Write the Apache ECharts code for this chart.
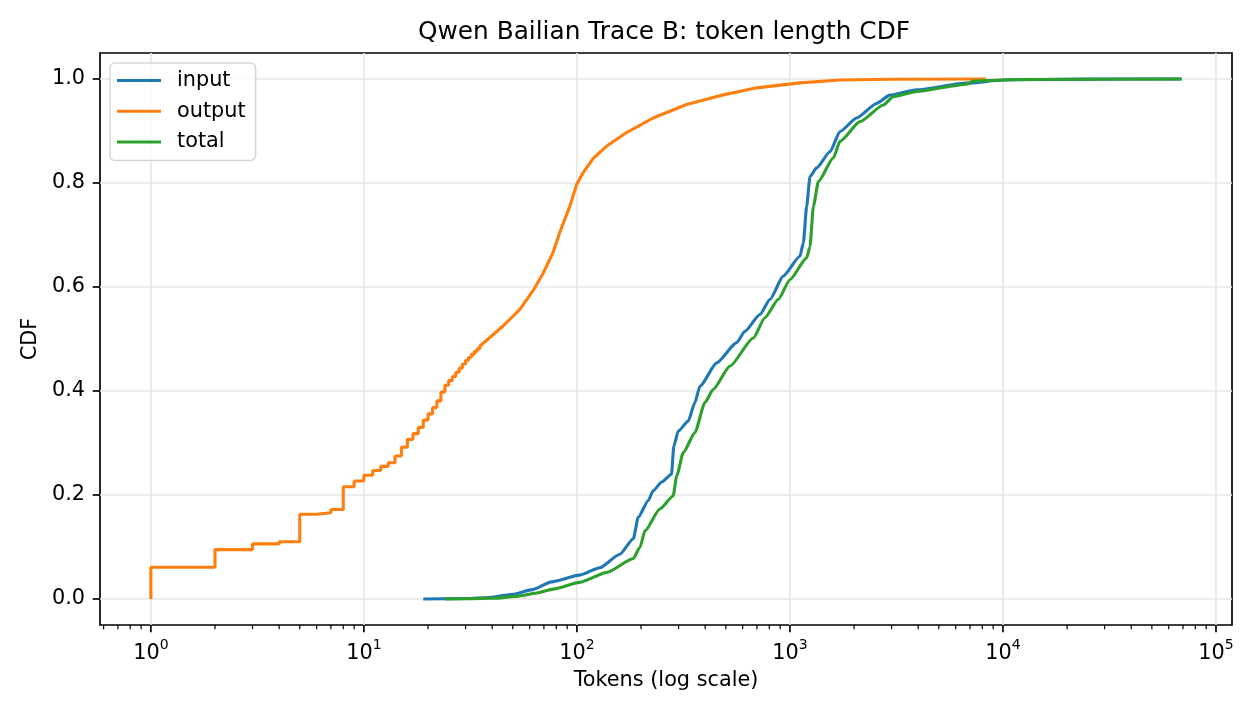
<!DOCTYPE html>
<html>
<head>
<meta charset="utf-8">
<script src="https://cdn.jsdelivr.net/npm/echarts@6/dist/echarts.min.js"></script>
<style>
  html, body { margin: 0; padding: 0; background: #fff; }
  #chart { width: 1260px; height: 720px; }
</style>
</head>
<body>
<div id="chart"></div>
<script>
// output lengths: discrete steps for the small integer token counts
const outputStepTokens = [1, 2, 3, 4, 5, 6, 7, 8, 9, 10, 11, 12, 13, 14, 15, 16, 17, 18, 19, 20,
  21, 22, 23, 24, 25, 26, 27, 28, 29, 30, 31, 32, 33, 34, 35];
const outputStepCdf = [0.061, 0.095, 0.106, 0.110, 0.163, 0.166, 0.172, 0.216, 0.227, 0.238,
  0.247, 0.255, 0.262, 0.275, 0.292, 0.307, 0.318, 0.330, 0.344, 0.356,
  0.368, 0.381, 0.398, 0.411, 0.420, 0.428, 0.436, 0.444, 0.452, 0.459,
  0.465, 0.471, 0.476, 0.481, 0.486];
// output lengths: continuous part
const outputTokens = [45, 54, 62, 69.5, 77, 83, 92.7, 99.7, 107, 119, 138, 171, 228, 327, 469, 698, 1114, 1718, 3000, 8300];
const outputCdf = [0.525, 0.557, 0.592, 0.627, 0.665, 0.7045, 0.7556, 0.797, 0.820, 0.847, 0.871, 0.897, 0.925, 0.951, 0.968, 0.983, 0.9925, 0.998, 0.9995, 1.0];

const inputTokens = [19, 30, 39, 50, 62, 76, 103, 128, 159, 184, 194, 216, 228, 250, 278, 285, 299, 333, 358, 378,
  453, 562, 615, 723, 805, 930, 1114, 1156, 1198, 1242, 1334, 1541, 1718, 2057, 2551, 2946, 3935, 6760, 10000, 23800, 69000];
const inputCdf = [0, 0.001, 0.003, 0.009, 0.018, 0.033, 0.046, 0.060, 0.086, 0.116, 0.157, 0.189, 0.208, 0.225, 0.240, 0.294, 0.323, 0.342, 0.378, 0.409,
  0.454, 0.493, 0.515, 0.547, 0.576, 0.621, 0.659, 0.685, 0.755, 0.8125, 0.829, 0.860, 0.899, 0.925, 0.953, 0.969, 0.979, 0.992, 0.998, 0.9998, 1.0];

const totalTokens = [24, 40.5, 52, 64.7, 77.4, 103, 138, 184, 198, 208.5, 245, 283, 294, 316, 358, 399, 436, 523, 673, 763,
  881, 1000, 1198, 1242, 1288, 1360, 1597, 1718, 2132, 2743, 3054, 3935, 6760, 7260, 11600, 69000];
const totalCdf = [0, 0.0013, 0.005, 0.0115, 0.019, 0.032, 0.051, 0.078, 0.100, 0.131, 0.173, 0.198, 0.237, 0.282, 0.320, 0.378, 0.403, 0.448, 0.502, 0.541,
  0.576, 0.614, 0.656, 0.678, 0.755, 0.803, 0.848, 0.880, 0.918, 0.950, 0.966, 0.976, 0.990, 0.996, 0.999, 1.0];

// axis ticks
const xMajorTicks = [1, 10, 100, 1000, 10000, 100000];
const xMinorTicks = [0.6, 0.7, 0.8, 0.9,
  2, 3, 4, 5, 6, 7, 8, 9, 20, 30, 40, 50, 60, 70, 80, 90,
  200, 300, 400, 500, 600, 700, 800, 900, 2000, 3000, 4000, 5000, 6000, 7000, 8000, 9000,
  20000, 30000, 40000, 50000, 60000, 70000, 80000, 90000];
const yTicks = [0, 0.2, 0.4, 0.6, 0.8, 1.0];

const FONT = 'DejaVu Sans';
const colors = { input: '#1f77b4', output: '#ff7f0e', total: '#2ca02c' };

function pairs(xs, ys) {
  return xs.map((x, i) => [x, ys[i]]);
}

// output: vertical jump at each integer, then the smooth tail
const outputData = [];
let prev = 0;
outputStepTokens.forEach((t, i) => {
  outputData.push([t, prev]);
  outputData.push([t, outputStepCdf[i]]);
  prev = outputStepCdf[i];
});
outputData.push(...pairs(outputTokens, outputCdf));

// grid lines and ticks: [x, y, kind]  kind 0 = x major, 1 = x minor, 2 = y major
const decorData = []
  .concat(xMajorTicks.map(v => [v, 0, 0]))
  .concat(xMinorTicks.map(v => [v, 0, 1]))
  .concat(yTicks.map(v => [1, v, 2]));

function renderDecor(params, api) {
  const cs = params.coordSys;
  const kind = api.value(2);
  const p = api.coord([api.value(0), api.value(1)]);
  const bottom = cs.y + cs.height;
  const grid = { stroke: '#e7e7e7', lineWidth: 1.67 };
  const tick = { stroke: '#000', lineWidth: 1.67 };
  if (kind === 2) {
    return { type: 'group', children: [
      { type: 'line', shape: { x1: cs.x, y1: p[1], x2: cs.x + cs.width, y2: p[1] }, style: grid },
      { type: 'line', shape: { x1: cs.x - 7.3, y1: p[1], x2: cs.x, y2: p[1] }, style: tick }
    ] };
  }
  if (kind === 0) {
    return { type: 'group', children: [
      { type: 'line', shape: { x1: p[0], y1: cs.y, x2: p[0], y2: bottom }, style: grid },
      { type: 'line', shape: { x1: p[0], y1: bottom, x2: p[0], y2: bottom + 7.3 }, style: tick }
    ] };
  }
  return { type: 'line', shape: { x1: p[0], y1: bottom, x2: p[0], y2: bottom + 4.2 }, style: { stroke: '#000', lineWidth: 1.2 } };
}

const chart = echarts.init(document.getElementById('chart'));

const option = {
  animation: false,
  backgroundColor: '#fff',
  title: {
    text: 'Qwen Bailian Trace B: token length CDF',
    left: 664,
    textAlign: 'center',
    top: 20,
    padding: 0,
    textStyle: { fontFamily: FONT, fontSize: 24.8, fontWeight: 'normal', color: '#000' }
  },
  legend: {
    data: ['input', 'output', 'total'],
    orient: 'vertical',
    left: 110,
    top: 63,
    padding: [7, 10, 8, 7],
    itemGap: 9.7,
    itemWidth: 44,
    itemHeight: 3,
    icon: 'rect',
    borderColor: '#d6d6d6',
    borderWidth: 1.5,
    borderRadius: 5,
    backgroundColor: 'rgba(255,255,255,0.8)',
    formatter: name => '{n|' + name + '}',
    textStyle: {
      fontFamily: FONT, fontSize: 20.8, color: '#000',
      rich: { n: { fontFamily: FONT, fontSize: 20.8, lineHeight: 21, padding: [0, 0, 0, 11], color: '#000' } }
    }
  },
  grid: {
    left: 100, right: 28, top: 53, bottom: 95,
    show: true, borderColor: '#000', borderWidth: 1.67, backgroundColor: 'transparent'
  },
  xAxis: {
    type: 'log',
    logBase: 10,
    min: 0.577,
    max: 118900,
    splitNumber: 5,
    name: 'Tokens (log scale)',
    nameLocation: 'middle',
    nameGap: 45,
    nameTextStyle: { fontFamily: FONT, fontSize: 20.8, color: '#000' },
    axisLine: { show: false },
    axisTick: { show: false },
    splitLine: { show: false },
    minorTick: { show: false },
    axisLabel: {
      showMinLabel: false,
      showMaxLabel: false,
      margin: 13,
      formatter: v => '{b|10}{s|' + Math.round(Math.log10(v)) + '}',
      rich: {
        b: { fontFamily: FONT, fontSize: 20.8, color: '#000', lineHeight: 26, verticalAlign: 'bottom' },
        s: { fontFamily: FONT, fontSize: 14, color: '#000', lineHeight: 16, verticalAlign: 'top' }
      }
    }
  },
  yAxis: {
    type: 'value',
    min: -0.05,
    max: 1.05,
    minInterval: 0.2,
    maxInterval: 0.2,
    name: 'CDF',
    nameLocation: 'middle',
    nameGap: 58,
    nameTextStyle: { fontFamily: FONT, fontSize: 20.8, color: '#000' },
    axisLine: { show: false },
    axisTick: { show: false },
    splitLine: { show: false },
    axisLabel: {
      showMinLabel: false,
      showMaxLabel: false,
      margin: 15,
      fontFamily: FONT,
      fontSize: 20.8,
      color: '#000',
      formatter: v => v.toFixed(1)
    }
  },
  series: [
    {
      type: 'custom',
      name: 'decor',
      silent: true,
      z: 1,
      clip: false,
      renderItem: renderDecor,
      encode: { x: 0, y: 1 },
      data: decorData
    },
    {
      name: 'input', type: 'line', z: 2,
      data: pairs(inputTokens, inputCdf),
      showSymbol: false, symbol: 'none',
      smooth: 0.2, smoothMonotone: 'x',
      color: colors.input,
      lineStyle: { width: 3.1, color: colors.input }
    },
    {
      name: 'output', type: 'line', z: 2,
      data: outputData,
      showSymbol: false, symbol: 'none',
      color: colors.output,
      lineStyle: { width: 3.1, color: colors.output }
    },
    {
      name: 'total', type: 'line', z: 2,
      data: pairs(totalTokens, totalCdf),
      showSymbol: false, symbol: 'none',
      smooth: 0.2, smoothMonotone: 'x',
      color: colors.total,
      lineStyle: { width: 3.1, color: colors.total }
    }
  ]
};

chart.setOption(option);
window.addEventListener('resize', () => chart.resize());
</script>
</body>
</html>
